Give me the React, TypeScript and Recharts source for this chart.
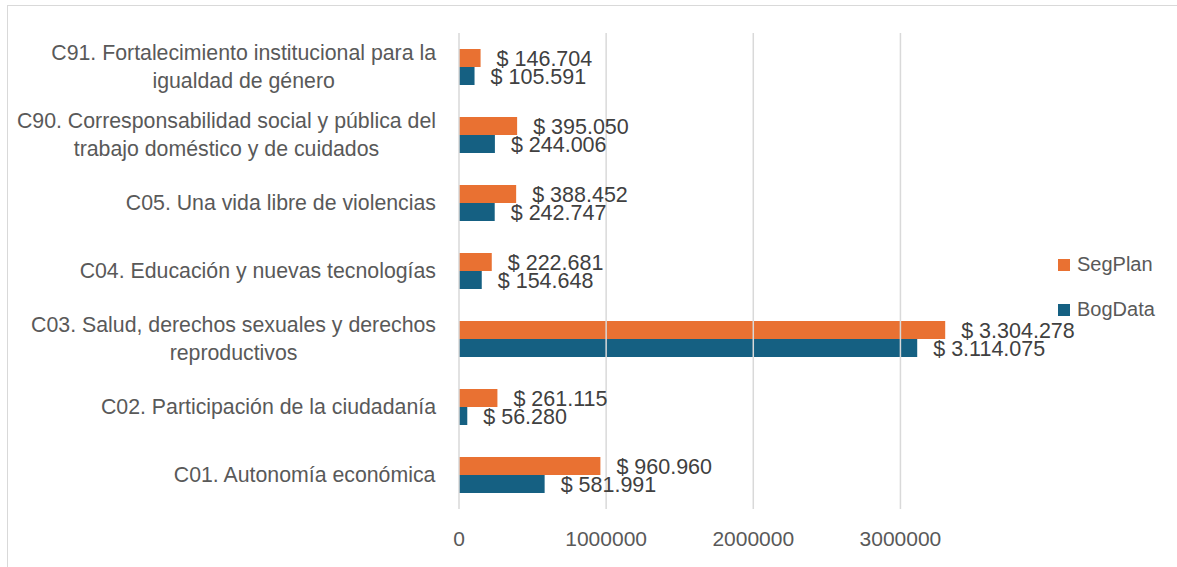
import { BarChart, Bar, XAxis, YAxis, ReferenceLine, LabelList } from "recharts";

const categories = [
  "C91. Fortalecimiento institucional para la\nigualdad de género",
  "C90. Corresponsabilidad social y pública del\ntrabajo doméstico y de cuidados",
  "C05. Una vida libre de violencias",
  "C04. Educación y nuevas tecnologías",
  "C03. Salud, derechos sexuales y derechos\nreproductivos",
  "C02. Participación de la ciudadanía",
  "C01. Autonomía económica",
];
const segPlan = [146704, 395050, 388452, 222681, 3304278, 261115, 960960];
const bogData = [105591, 244006, 242747, 154648, 3114075, 56280, 581991];
const xTicks = [0, 1000000, 2000000, 3000000];

const data = categories.map((name, i) => ({ name, segPlan: segPlan[i], bogData: bogData[i] }));

const FONT = "'Liberation Sans', Arial, sans-serif";
const ORANGE = "#E97132";
const BLUE = "#156082";

const fmt = (v: number) => "$ " + String(v).replace(/\B(?=(\d{3})+(?!\d))/g, ".");

let ctx: CanvasRenderingContext2D | null = null;
function textWidth(t: string, size: number) {
  if (!ctx) ctx = document.createElement("canvas").getContext("2d");
  if (!ctx) return t.length * size * 0.5;
  ctx.font = `${size}px ${FONT}`;
  return ctx.measureText(t).width;
}

function CategoryTick(props: any) {
  const { x, y, payload } = props;
  const lines: string[] = String(payload.value).split("\n");
  const size = 21.3;
  const w = Math.max(...lines.map((l) => textWidth(l, size)));
  const cx = x - w / 2;
  return (
    <g>
      {lines.map((l, i) => (
        <text
          key={i}
          x={cx}
          y={y + (i - (lines.length - 1) / 2) * 28}
          dy="0.35em"
          textAnchor="middle"
          fill="#595959"
          fontSize={size}
          fontFamily={FONT}
        >
          {l}
        </text>
      ))}
    </g>
  );
}

function LegendBox() {
  const items = [
    { label: "SegPlan", color: ORANGE },
    { label: "BogData", color: BLUE },
  ];
  return (
    <div style={{ position: "absolute", left: 1058, top: 242, fontFamily: FONT, fontSize: 20, color: "#595959" }}>
      {items.map((it) => (
        <div key={it.label} style={{ display: "flex", alignItems: "center", height: 45 }}>
          <span style={{ width: 12, height: 12, background: it.color, marginRight: 7 }} />
          {it.label}
        </div>
      ))}
    </div>
  );
}

export default function App() {
  return (
    <div style={{ position: "absolute", left: 0, top: 0, width: 1177, height: 567, overflow: "hidden", background: "#fff" }}>
      <div
        style={{
          position: "absolute",
          left: 7,
          top: 5,
          width: 1200,
          height: 600,
          border: "1px solid #d9d9d9",
        }}
      />
      <div style={{ position: "absolute", left: 0, top: 0 }}>
        <BarChart
          width={1177}
          height={567}
          data={data}
          layout="vertical"
          margin={{ top: 33, right: 203, bottom: 18, left: 0 }}
          barSize={18}
          barGap={0}
        >
          <XAxis
            type="number"
            domain={[0, 3500000]}
            ticks={xTicks}
            axisLine={false}
            tickLine={false}
            height={40}
            tickMargin={16}
            tick={{ fill: "#595959", fontSize: 21, fontFamily: FONT }}
          />
          <YAxis
            type="category"
            dataKey="name"
            width={459}
            axisLine={false}
            tickLine={false}
            tickMargin={17}
            interval={0}
            tick={<CategoryTick />}
          />
          {xTicks.map((t) => (
            <ReferenceLine key={t} x={t} stroke="#d9d9d9" strokeWidth={1.5} />
          ))}
          <Bar dataKey="segPlan" name="SegPlan" fill={ORANGE} isAnimationActive={false}>
            <LabelList
              dataKey="segPlan"
              position="right"
              offset={16}
              formatter={(v: any) => fmt(Number(v))}
              fill="#404040"
              fontSize={21.5}
              fontFamily={FONT}
            />
          </Bar>
          <Bar dataKey="bogData" name="BogData" fill={BLUE} isAnimationActive={false}>
            <LabelList
              dataKey="bogData"
              position="right"
              offset={16}
              formatter={(v: any) => fmt(Number(v))}
              fill="#404040"
              fontSize={21.5}
              fontFamily={FONT}
            />
          </Bar>
        </BarChart>
      </div>
      <LegendBox />
    </div>
  );
}
